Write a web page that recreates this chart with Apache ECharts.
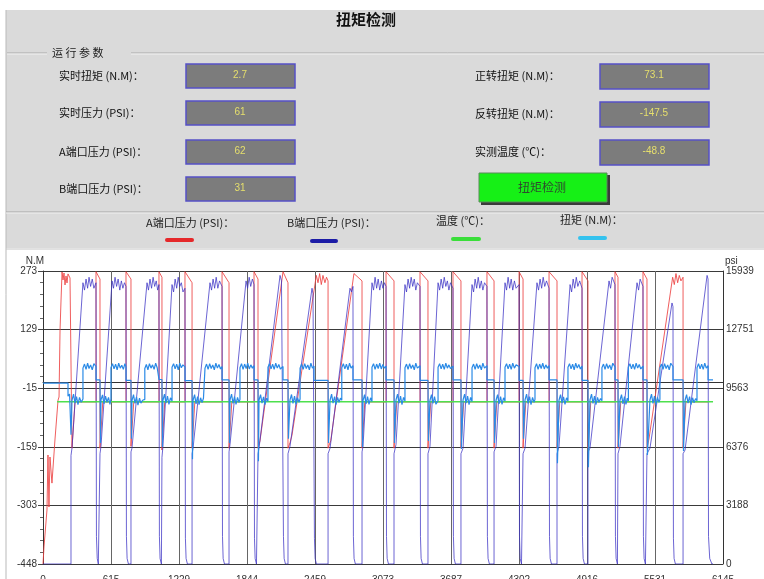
<!DOCTYPE html>
<html>
<head>
<meta charset="utf-8">
<script src="https://cdn.jsdelivr.net/npm/echarts@6/dist/echarts.min.js"></script>
<style>
html,body{margin:0;padding:0;background:#fff;}
#chart{width:764px;height:579px;}
</style>
</head>
<body>
<div id="chart"></div>
<script>
// ---- axis tick labels ----
const xTicks = [0, 615, 1229, 1844, 2459, 3073, 3687, 4302, 4916, 5531, 6145];
const leftTicks = [-448, -303, -159, -15, 129, 273];
const rightTicks = [0, 3188, 6376, 9563, 12751, 15939];

// ---- panel readouts ----
const leftParamNames = ['实时扭矩 (N.M)：', '实时压力 (PSI)：', 'A端口压力 (PSI)：', 'B端口压力 (PSI)：'];
const leftParamValues = ['2.7', '61', '62', '31'];
const rightParamNames = ['正转扭矩 (N.M)：', '反转扭矩 (N.M)：', '实测温度 (℃)：'];
const rightParamValues = ['73.1', '-147.5', '-48.8'];

// ---- series names ----
const seriesNames = ['A端口压力 (PSI)', 'B端口压力 (PSI)', '温度 (℃)', '扭矩 (N.M)'];

// A port pressure [sample, psi]
const aPressure = [
  [0,0],[9,925],[36,2938],[45,5930],[54,3100],[63,5820],[81,4400],[108,6745],[136,8920],[145,9085],
  [154,12730],[163,14360],[172,15885],[181,15450],[190,15830],[199,15180],[208,15670],[217,15290],[226,15780],[244,15560],[262,15500],[262,6300],[289,8813],
  [479,8813],[479,15900],[515,15500],[515,6300],[540,8813],
  [750,8813],[750,15900],[795,15500],[795,6400],[820,8813],
  [1048,8813],[1048,15900],[1075,15600],[1075,6200],[1100,8813],
  [1283,8813],[1283,15900],[1347,15300],[1347,6300],[1372,8813],
  [1618,8813],[1618,15900],[1681,15300],[1681,6300],[1706,8813],
  [1907,8813],[1907,15900],[1943,15500],[1943,6300],
  [1961,6700],[2160,15500],[2169,15900],[2214,15300],[2214,6300],
  [2232,6600],[2250,7000],[2470,15700],[2485,15300],[2500,15800],[2515,15200],[2530,15700],[2548,15300],[2562,15600],[2576,15400],[2576,6300],
  [2600,6700],[2810,15800],[2820,15900],[2883,15400],[2883,6300],[2908,8813],
  [3100,8813],[3100,15900],[3172,15400],[3172,6300],[3197,8813],
  [3407,8813],[3407,15900],[3479,15400],[3479,6300],[3504,8813],
  [3705,8813],[3705,15900],[3777,15400],[3777,6300],[3802,8813],
  [4012,8813],[4012,15900],[4076,15400],[4076,6300],[4101,8813],
  [4302,8813],[4302,15900],[4338,15500],[4338,6300],[4363,8813],
  [4573,8813],[4573,15900],[4645,15400],[4645,6300],[4670,8813],
  [4871,8813],[4871,15900],[4925,15400],[4925,6300],[4950,8813],
  [5169,8813],[5169,15900],[5196,15600],[5196,6300],[5221,8813],
  [5422,8813],[5422,15900],[5458,15500],[5458,6300],
  [5476,6800],[5690,15600],[5705,15200],[5720,15800],[5735,15300],[5750,15700],[5765,15400],[5784,15600],[5784,6300],[5810,8813],
  [6010,8813]
];

// B port pressure [sample, psi]
const bPressure = [
  [0,0],[253,0],[253,5900],
  [262,6300],[361,15300],[375,14900],[389,15500],[403,15000],[416,15600],[430,15100],[445,15500],[460,15000],[479,15300],[483,1500],[490,300],[500,0],[515,0],[515,6000],
  [524,6400],[624,15400],[637,15000],[651,15600],[665,15100],[679,15500],[694,14900],[708,15400],[722,15000],[736,15300],[750,15100],[754,1500],[760,300],[772,0],[795,0],[795,6100],
  [804,6300],[940,15300],[953,14900],[967,15500],[981,15000],[995,15600],[1009,15100],[1023,15400],[1036,14900],[1048,15200],[1052,1500],[1058,300],[1070,0],[1075,0],[1075,5800],
  [1084,6400],[1166,15200],[1180,14800],[1194,15500],[1208,15000],[1222,15600],[1236,15100],[1250,15300],[1265,14800],[1283,15000],[1287,1400],[1293,300],[1305,0],[1347,0],[1347,6000],
  [1356,6300],[1509,15300],[1523,14900],[1537,15500],[1551,15000],[1565,15600],[1580,15000],[1595,15400],[1618,15100],[1622,1500],[1628,300],[1640,0],[1681,0],[1681,6100],
  [1690,6500],[1835,15400],[1849,15000],[1863,15600],[1877,15100],[1892,15500],[1907,15200],[1911,1400],[1917,300],[1929,0],[1943,0],[1943,6000],
  [1952,6300],[2142,15700],[2155,15400],[2169,15300],[2173,1500],[2179,300],[2191,0],[2214,0],[2214,6000],
  [2232,6400],[2431,15000],[2440,14700],[2449,14800],[2453,1400],[2459,300],[2471,0],[2576,0],[2576,6000],
  [2594,6300],[2774,15000],[2788,14800],[2801,15100],[2805,1500],[2811,300],[2823,0],[2883,0],[2883,6100],
  [2892,6400],[2973,15300],[2987,14900],[3001,15600],[3015,15000],[3029,15500],[3043,14900],[3058,15400],[3072,15000],[3086,15300],[3100,15100],[3104,1500],[3110,300],[3122,0],[3172,0],[3172,6000],
  [3190,6500],[3271,15200],[3285,14800],[3299,15500],[3313,15000],[3327,15600],[3341,15100],[3355,15500],[3369,14900],[3383,15300],[3407,15100],[3411,1500],[3417,300],[3429,0],[3479,0],[3479,6000],
  [3497,6400],[3570,15300],[3584,14900],[3598,15500],[3612,15000],[3626,15600],[3640,15100],[3654,15400],[3668,14900],[3682,15300],[3705,15000],[3709,1500],[3715,300],[3727,0],[3777,0],[3777,6000],
  [3796,6300],[3877,15200],[3891,14800],[3905,15500],[3919,15000],[3933,15600],[3947,15000],[3961,15400],[3975,14900],[3990,15300],[4012,15100],[4016,1500],[4022,300],[4034,0],[4076,0],[4076,6100],
  [4094,6400],[4175,15300],[4189,14900],[4203,15600],[4217,15000],[4231,15500],[4245,14900],[4260,15400],[4275,15000],[4302,15200],[4306,1500],[4312,300],[4324,0],[4338,0],[4338,6000],
  [4356,6300],[4464,15300],[4478,14900],[4492,15500],[4506,15000],[4520,15600],[4534,15100],[4550,15400],[4573,15000],[4577,1500],[4583,300],[4595,0],[4645,0],[4645,6000],
  [4663,6400],[4763,15200],[4777,14800],[4791,15500],[4805,15000],[4819,15600],[4833,15100],[4850,15400],[4871,15000],[4875,1500],[4881,300],[4893,0],[4925,0],[4925,6100],
  [4943,6300],[5115,15400],[5129,15000],[5143,15600],[5169,15200],[5173,1500],[5179,300],[5191,0],[5196,0],[5196,6000],
  [5214,6400],[5368,15300],[5382,14900],[5396,15500],[5422,15100],[5426,1500],[5432,300],[5444,0],[5458,0],[5458,6000],
  [5485,6300],[5684,14200],[5693,14000],[5697,1400],[5703,300],[5715,0],[5784,0],[5784,6000],
  [5802,6200],[6001,15700],[6010,15500],[6014,1500],[6025,300],[6045,0],[6055,0]
];

// measured temperature [sample, ℃]
const temperature = [[127,-48.8],[1500,-48.8],[3000,-48.8],[4500,-48.8],[6055,-48.8]];

// torque [sample, N.M]
const torque = [
  [0,-3],[226,-3],[226,-35],[240,-30],[253,-130],
  [262,-45],[276,-30],[289,-52],[303,-36],[316,-56],[330,-38],[345,-50],[361,-42],[361,34],[375,44],[389,31],[403,46],[416,33],[430,42],[445,30],[460,45],[479,38],[479,5],[515,5],[519,-150],
  [524,-44],[538,-32],[551,-54],[565,-35],[578,-50],[592,-38],[605,-55],[614,-42],[614,35],[628,45],[642,32],[656,44],[670,30],[684,46],[698,34],[712,41],[726,31],[740,45],[750,37],[750,4],[795,4],[799,-140],
  [804,-46],[818,-31],[831,-53],[845,-37],[858,-57],[872,-40],[885,-52],[900,-45],[920,-43],[920,33],[934,43],[948,30],[962,45],[976,34],[990,42],[1004,31],[1018,46],[1032,35],[1048,39],[1048,6],[1075,6],[1079,-160],
  [1084,-45],[1098,-30],[1111,-52],[1125,-35],[1138,-55],[1152,-39],[1166,-47],[1166,36],[1180,45],[1194,32],[1208,44],[1222,30],[1236,46],[1250,35],[1264,42],[1283,37],[1283,3],[1347,3],[1351,-190],
  [1356,-45],[1370,-31],[1383,-54],[1397,-36],[1410,-56],[1424,-39],[1437,-51],[1450,-40],[1464,-44],[1464,34],[1478,44],[1492,31],[1506,45],[1520,33],[1534,42],[1548,30],[1562,46],[1576,34],[1590,43],[1604,32],[1618,38],[1618,5],[1681,5],[1685,-150],
  [1690,-44],[1704,-30],[1717,-53],[1731,-36],[1744,-55],[1758,-38],[1771,-50],[1780,-43],[1780,35],[1794,45],[1808,31],[1822,44],[1836,33],[1850,46],[1864,32],[1878,42],[1892,34],[1907,40],[1907,5],[1943,5],[1947,-195],
  [1952,-45],[1966,-31],[1979,-52],[1993,-37],[2006,-56],[2020,-40],[2033,-48],[2033,36],[2047,45],[2061,32],[2075,44],[2089,31],[2103,46],[2117,34],[2131,43],[2145,32],[2169,38],[2169,5],[2214,5],[2218,-140],
  [2232,-44],[2246,-31],[2259,-53],[2273,-35],[2286,-55],[2300,-39],[2313,-50],[2323,-42],[2323,34],[2337,44],[2351,31],[2365,45],[2379,33],[2393,42],[2407,30],[2421,46],[2435,34],[2449,39],[2449,4],[2576,4],[2580,-150],
  [2594,-45],[2608,-30],[2621,-52],[2635,-36],[2648,-56],[2662,-38],[2675,-50],[2688,-40],[2700,-45],[2700,35],[2714,45],[2728,32],[2742,44],[2756,30],[2770,46],[2784,34],[2801,40],[2801,5],[2883,5],[2887,-160],
  [2892,-46],[2906,-31],[2919,-54],[2933,-36],[2946,-55],[2960,-39],[2973,-48],[2973,36],[2987,45],[3001,31],[3015,44],[3029,33],[3043,46],[3057,32],[3071,43],[3085,34],[3100,39],[3100,5],[3172,5],[3176,-150],
  [3190,-44],[3204,-30],[3217,-52],[3231,-35],[3244,-56],[3258,-38],[3271,-47],[3271,35],[3285,44],[3299,31],[3313,45],[3327,33],[3341,42],[3355,30],[3369,46],[3383,34],[3407,40],[3407,4],[3479,4],[3483,-145],
  [3497,-45],[3511,-31],[3524,-53],[3538,-36],[3551,-55],[3570,-46],[3570,36],[3584,45],[3598,32],[3612,44],[3626,31],[3640,46],[3654,34],[3668,42],[3682,33],[3705,39],[3705,5],[3777,5],[3781,-165],
  [3796,-44],[3810,-30],[3823,-52],[3837,-35],[3850,-56],[3864,-38],[3877,-48],[3877,35],[3891,44],[3905,31],[3919,45],[3933,33],[3947,42],[3961,30],[3975,46],[3990,34],[4012,40],[4012,5],[4076,5],[4080,-150],
  [4094,-45],[4108,-31],[4121,-54],[4135,-36],[4148,-55],[4162,-39],[4175,-47],[4175,36],[4189,45],[4203,32],[4217,44],[4231,31],[4245,46],[4260,34],[4275,42],[4302,38],[4302,4],[4338,4],[4342,-140],
  [4356,-44],[4370,-30],[4383,-53],[4397,-36],[4410,-56],[4424,-38],[4437,-50],[4446,-43],[4446,35],[4460,45],[4474,31],[4488,44],[4502,33],[4516,46],[4530,32],[4544,42],[4558,34],[4573,40],[4573,5],[4645,5],[4649,-200],
  [4663,-45],[4677,-31],[4690,-52],[4704,-37],[4717,-55],[4731,-39],[4744,-47],[4744,36],[4758,45],[4772,32],[4786,44],[4800,30],[4814,46],[4828,34],[4842,43],[4856,32],[4871,39],[4871,4],[4925,4],[4929,-210],
  [4943,-44],[4957,-30],[4970,-53],[4984,-35],[4997,-56],[5011,-38],[5024,-50],[5038,-41],[5051,-46],[5051,35],[5065,44],[5079,31],[5093,45],[5107,33],[5121,42],[5135,30],[5149,46],[5169,37],[5169,5],[5196,5],[5200,-160],
  [5214,-45],[5228,-31],[5241,-54],[5255,-36],[5268,-55],[5280,-40],[5290,-47],[5290,36],[5304,45],[5318,32],[5332,44],[5346,31],[5360,46],[5374,34],[5388,43],[5402,32],[5422,39],[5422,5],[5458,5],[5462,-180],
  [5485,-44],[5499,-30],[5512,-53],[5526,-35],[5539,-56],[5553,-38],[5566,-50],[5575,-43],[5575,35],[5589,44],[5603,31],[5617,45],[5631,33],[5645,42],[5659,30],[5673,46],[5693,38],[5693,5],[5784,5],[5788,-170],
  [5802,-45],[5816,-31],[5829,-52],[5843,-36],[5856,-56],[5870,-39],[5883,-51],[5897,-41],[5910,-46],[5910,35],[5924,45],[5938,32],[5952,44],[5966,31],[5980,46],[5994,34],[6010,40],[6010,5],[6055,5]
];

// ---- helpers ----
function nearestLabel(list, v) {
  let best = list[0];
  for (const t of list) if (Math.abs(t - v) < Math.abs(best - v)) best = t;
  return String(best);
}

const CJK = '"Noto Sans CJK SC", sans-serif';
const NUM = '"Liberation Sans", Arial, sans-serif';

// ---- control panel drawn as graphic elements ----
const graphics = [];
graphics.push({ type: 'rect', z: 0, shape: { x: 6, y: 10, width: 758, height: 238 }, style: { fill: '#dadada' } });
graphics.push({ type: 'line', z: 1, shape: { x1: 6, y1: 10, x2: 6, y2: 579 }, style: { stroke: '#b9b9b9', lineWidth: 1 } });
graphics.push({ type: 'line', z: 1, shape: { x1: 6, y1: 249, x2: 764, y2: 249 }, style: { stroke: '#c4c4c4', lineWidth: 1 } });
graphics.push({ type: 'text', z: 2, x: 366, y: 19, style: { text: '扭矩检测', font: 'bold 15px ' + CJK, fill: '#111', align: 'center', verticalAlign: 'middle' } });

// group box frame
graphics.push({ type: 'line', z: 1, shape: { x1: 7, y1: 53, x2: 47, y2: 53 }, style: { stroke: '#a9a9a9' } });
graphics.push({ type: 'line', z: 1, shape: { x1: 131, y1: 53, x2: 764, y2: 53 }, style: { stroke: '#a9a9a9' } });
graphics.push({ type: 'line', z: 1, shape: { x1: 7, y1: 54, x2: 47, y2: 54 }, style: { stroke: '#f2f2f2' } });
graphics.push({ type: 'line', z: 1, shape: { x1: 131, y1: 54, x2: 764, y2: 54 }, style: { stroke: '#f2f2f2' } });
graphics.push({ type: 'text', z: 2, x: 52, y: 53, style: { text: '运 行 参 数', font: '11px ' + CJK, fill: '#222', align: 'left', verticalAlign: 'middle' } });

const leftBoxTops = [64, 101, 140, 177];
leftParamNames.forEach((name, i) => {
  const top = leftBoxTops[i];
  graphics.push({ type: 'text', z: 2, x: 59, y: top + 12, style: { text: name, font: '11px ' + CJK, fill: '#111', align: 'left', verticalAlign: 'middle' } });
  graphics.push({ type: 'rect', z: 2, shape: { x: 186, y: top, width: 109, height: 24 }, style: { fill: '#7c7c7c', stroke: '#5650c6', lineWidth: 1.5 } });
  graphics.push({ type: 'text', z: 3, x: 240, y: top + 11, style: { text: leftParamValues[i], font: '10px ' + NUM, fill: '#e6df6c', align: 'center', verticalAlign: 'middle' } });
});

const rightBoxTops = [64, 102, 140];
rightParamNames.forEach((name, i) => {
  const top = rightBoxTops[i];
  graphics.push({ type: 'text', z: 2, x: 475, y: top + 12, style: { text: name, font: '11px ' + CJK, fill: '#111', align: 'left', verticalAlign: 'middle' } });
  graphics.push({ type: 'rect', z: 2, shape: { x: 600, y: top, width: 109, height: 25 }, style: { fill: '#7c7c7c', stroke: '#5650c6', lineWidth: 1.5 } });
  graphics.push({ type: 'text', z: 3, x: 654, y: top + 11, style: { text: rightParamValues[i], font: '10px ' + NUM, fill: '#e6df6c', align: 'center', verticalAlign: 'middle' } });
});

// start button
graphics.push({ type: 'rect', z: 2, shape: { x: 481, y: 175, width: 129, height: 30 }, style: { fill: '#3a3a3a' } });
graphics.push({ type: 'rect', z: 3, shape: { x: 479, y: 173, width: 128, height: 29 }, style: { fill: '#16f016', stroke: '#5a8a5a', lineWidth: 1 } });
graphics.push({ type: 'text', z: 4, x: 542, y: 187, style: { text: '扭矩检测', font: '12px ' + CJK, fill: '#2f4a2f', align: 'center', verticalAlign: 'middle' } });

// separator above the legend row
graphics.push({ type: 'line', z: 1, shape: { x1: 6, y1: 212, x2: 764, y2: 212 }, style: { stroke: '#a4a4a4' } });
graphics.push({ type: 'line', z: 1, shape: { x1: 6, y1: 213, x2: 764, y2: 213 }, style: { stroke: '#f0f0f0' } });

// legend row: caption above a coloured bar
const legendItems = [
  { name: 'A端口压力 (PSI)：', tx: 146, ty: 223, bx: 165, by: 238, bw: 29, color: '#e5282a' },
  { name: 'B端口压力 (PSI)：', tx: 287, ty: 223, bx: 310, by: 239, bw: 28, color: '#1c1ca6' },
  { name: '温度 (℃)：', tx: 436, ty: 221, bx: 451, by: 237, bw: 30, color: '#3ade3a' },
  { name: '扭矩 (N.M)：', tx: 560, ty: 220, bx: 578, by: 236, bw: 29, color: '#34c2ee' }
];
legendItems.forEach(it => {
  graphics.push({ type: 'text', z: 2, x: it.tx, y: it.ty, style: { text: it.name, font: '11px ' + CJK, fill: '#222', align: 'left', verticalAlign: 'middle' } });
  graphics.push({ type: 'rect', z: 2, shape: { x: it.bx, y: it.by, width: it.bw, height: 4, r: 2 }, style: { fill: it.color } });
});

// ---- chart ----
const chart = echarts.init(document.getElementById('chart'), null, { renderer: 'canvas' });
chart.setOption({
  animation: false,
  backgroundColor: '#ffffff',
  graphic: graphics,
  grid: { left: 43, right: 41, top: 271, bottom: 15, containLabel: false, outerBoundsMode: 'none' },
  xAxis: {
    type: 'value', min: 0, max: 6145, interval: 614.5,
    axisLine: { show: true, lineStyle: { color: '#333', width: 1 } },
    axisTick: { show: false },
    axisLabel: { margin: 11, fontSize: 10, fontFamily: NUM, color: '#333', showMinLabel: true, showMaxLabel: true,
      formatter: v => nearestLabel(xTicks, v) },
    splitLine: { show: true, lineStyle: { color: '#666', width: 1 } }
  },
  yAxis: [
    {
      type: 'value', position: 'left', min: -448, max: 273, interval: 144.2,
      name: 'N.M', nameLocation: 'end', nameGap: 1,
      nameTextStyle: { align: 'right', fontSize: 10, fontFamily: NUM, color: '#333', padding: [0, -1, 0, 0] },
      axisLine: { show: true, lineStyle: { color: '#333', width: 1 } },
      axisTick: { show: true, length: 5, lineStyle: { color: '#444' } },
      minorTick: { show: true, splitNumber: 5, length: 3, lineStyle: { color: '#666' } },
      axisLabel: { margin: 6, fontSize: 10, fontFamily: NUM, color: '#333', formatter: v => nearestLabel(leftTicks, v) },
      splitLine: { show: true, lineStyle: { color: '#3a3a3a', width: 1 } }
    },
    {
      type: 'value', position: 'right', min: 0, max: 15939, interval: 3187.8,
      name: 'psi', nameLocation: 'end', nameGap: 1,
      nameTextStyle: { align: 'left', fontSize: 10, fontFamily: NUM, color: '#333', padding: [0, 0, 0, 2] },
      axisLine: { show: true, lineStyle: { color: '#333', width: 1 } },
      axisTick: { show: false },
      axisLabel: { margin: 3, fontSize: 10, fontFamily: NUM, color: '#333', formatter: v => nearestLabel(rightTicks, v) },
      splitLine: { show: false }
    }
  ],
  series: [
    { name: seriesNames[0], type: 'line', yAxisIndex: 1, data: aPressure, showSymbol: false, symbol: 'none', clip: true,
      lineStyle: { color: '#ec4242', width: 1, opacity: 0.85 }, z: 2 },
    { name: seriesNames[1], type: 'line', yAxisIndex: 1, data: bPressure, showSymbol: false, symbol: 'none', clip: true,
      lineStyle: { color: '#3b32c4', width: 1, opacity: 0.75 }, z: 3 },
    { name: seriesNames[2], type: 'line', yAxisIndex: 0, data: temperature, showSymbol: false, symbol: 'none', clip: true,
      lineStyle: { color: '#4ee04e', width: 1.5 }, z: 4 },
    { name: seriesNames[3], type: 'line', yAxisIndex: 0, data: torque, showSymbol: false, symbol: 'none', clip: true,
      lineStyle: { color: '#2a8ae6', width: 1.2 }, z: 5 }
  ]
});
</script>
</body>
</html>
